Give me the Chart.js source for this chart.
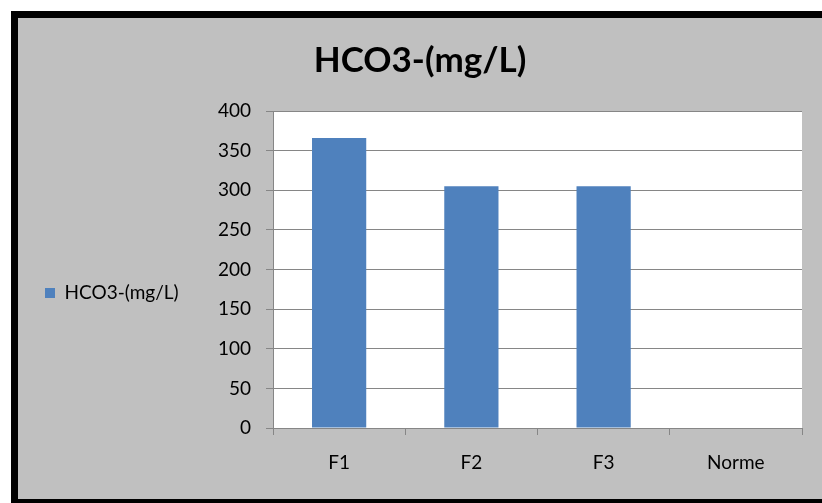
<!DOCTYPE html>
<html>
<head>
<meta charset="utf-8">
<script src="https://cdn.jsdelivr.net/npm/chart.js@4/dist/chart.umd.min.js"></script>
<style>
  html, body { margin: 0; padding: 0; background: #ffffff; overflow: hidden; }
  #frame {
    position: absolute; left: 11px; top: 11px;
    width: 811px; height: 492px;
    background: #000000;
  }
  #wrap {
    position: absolute; left: 18px; top: 18px;
    width: 804px; height: 481px;
    background: #c0c0c0;
  }
  canvas { display: block; }
</style>
</head>
<body>
<div id="frame"></div>
<div id="wrap"><canvas id="c" width="804" height="481"></canvas></div>
<script>
const categories = ["F1", "F2", "F3", "Norme"];
const hco3Values = [366, 305, 305, null];
const seriesLabel = "HCO3-(mg/L)";
const chartTitle = "HCO3-(mg/L)";
const yTicks = [0, 50, 100, 150, 200, 250, 300, 350, 400];

const FONT = "Lato, 'Open Sans', sans-serif";
const GRID = "#868686";
const PAD_L = 20;

const plotBackground = {
  id: "plotBackground",
  beforeDraw(chart) {
    const a = chart.chartArea;
    const ctx = chart.ctx;
    ctx.save();
    ctx.fillStyle = "#ffffff";
    ctx.fillRect(a.left, a.top, a.right - a.left, a.bottom - a.top);
    ctx.restore();
  }
};

new Chart(document.getElementById("c"), {
  type: "bar",
  data: {
    labels: categories,
    datasets: [{
      label: seriesLabel,
      data: hco3Values,
      backgroundColor: "#4f81bd",
      borderWidth: 0,
      barPercentage: 0.41,
      categoryPercentage: 1.0
    }]
  },
  plugins: [plotBackground],
  options: {
    responsive: false,
    animation: false,
    devicePixelRatio: 1,
    layout: { padding: { left: PAD_L, right: 20, top: 0, bottom: 0 } },
    plugins: {
      title: {
        display: true,
        text: chartTitle,
        color: "#000000",
        font: { family: FONT, size: 35, weight: "bold" },
        padding: { top: 22, bottom: 29 }
      },
      legend: {
        display: true,
        position: "left",
        align: "center",
        title: {
          display: true,
          text: " ",
          font: { size: 1 },
          padding: { top: 34, bottom: 34 }
        },
        labels: {
          boxWidth: 10,
          boxHeight: 10,
          padding: 7,
          color: "#000000",
          font: { family: FONT, size: 19 }
        }
      },
      tooltip: { enabled: false }
    },
    scales: {
      x: {
        offset: true,
        grid: {
          display: true,
          offset: true,
          drawOnChartArea: false,
          drawTicks: true,
          tickLength: 7,
          tickColor: GRID,
          color: GRID
        },
        border: { display: true, color: GRID, width: 1 },
        ticks: {
          color: "#000000",
          font: { family: FONT, size: 19 },
          padding: 16,
          maxRotation: 0
        },
        afterFit(scale) { scale.height = 71; }
      },
      y: {
        min: 0,
        max: 400,
        afterBuildTicks(scale) { scale.ticks = yTicks.map(v => ({ value: v })); },
        grid: {
          color: GRID,
          drawTicks: true,
          tickLength: 7,
          tickColor: GRID
        },
        border: { display: true, color: GRID, width: 1 },
        ticks: {
          color: "#000000",
          font: { family: FONT, size: 19 },
          padding: 15
        },
        afterFit(scale) {
          const lw = scale.chart.legend ? scale.chart.legend.width : 0;
          scale.width = 255 - PAD_L - lw;
        }
      }
    }
  }
});
</script>
</body>
</html>
